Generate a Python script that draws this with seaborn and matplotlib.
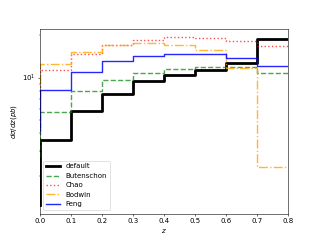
import numpy as np
import pandas as pd
import matplotlib
matplotlib.use('Agg')
import matplotlib.pyplot as plt
import seaborn as sns

# bin edges in z; first value of each series is the point at z=0
z_edges = [0.0, 0.1, 0.2, 0.3, 0.4, 0.5, 0.6, 0.7, 0.8]

default = [1.23, 3.58, 5.75, 7.69, 9.4, 10.5, 11.4, 12.8, 18.9]
butenschon = [2.7, 5.67, 8.03, 9.57, 10.8, 11.5, 11.8, 11.8, 10.85]
chao = [8.0, 11.4, 14.8, 17.2, 18.6, 19.4, 19.2, 18.3, 16.9]
bodwin = [7.2, 12.4, 15.2, 17.1, 17.6, 17.2, 15.6, 11.7, 2.29]
feng = [4.2, 8.2, 10.96, 13.06, 14.3, 14.8, 14.8, 13.7, 12.1]

series = {
    'default': (default, 'black', '-', 4.0, 1.0),
    'Butenschon': (butenschon, 'green', '--', 2.0, 0.7),
    'Chao': (chao, 'red', ':', 2.0, 0.7),
    'Bodwin': (bodwin, 'orange', '-.', 2.0, 0.8),
    'Feng': (feng, 'blue', '-', 2.0, 0.85),
}

fig, ax = plt.subplots(figsize=(6.4, 4.8), dpi=50)

for name, (vals, color, ls, lw, alpha) in series.items():
    df = pd.DataFrame({'z': z_edges, 'xs': vals})
    sns.lineplot(data=df, x='z', y='xs', ax=ax, color=color, linestyle=ls,
                 linewidth=lw, alpha=alpha, drawstyle='steps-pre', label=name,
                 sort=False, estimator=None)

ax.set_yscale('log')
ax.set_xlim(0, 0.8)
ax.set_xticks(np.arange(0, 0.81, 0.1))
ax.set_xlabel('$z$')
ax.set_ylabel(r'$d\sigma/dz(pb)$')
ax.legend(loc='lower left')

fig.savefig('out.png', dpi=50)
